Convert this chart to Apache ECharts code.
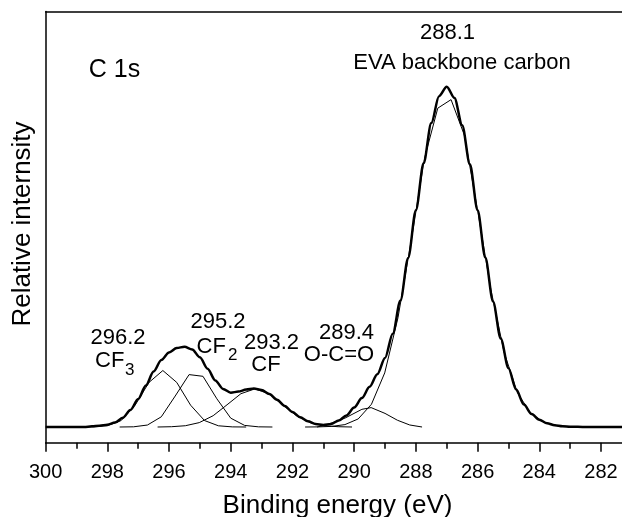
<!DOCTYPE html>
<html>
<head>
<meta charset="utf-8">
<script src="https://cdn.jsdelivr.net/npm/echarts@6/dist/echarts.min.js"></script>
<style>
html,body{margin:0;padding:0;background:#fff;}
#chart{width:622px;height:517px;}
</style>
</head>
<body>
<div id="chart"></div>
<script>
// Binding energy (eV) ticks
const xTicks = [300, 298, 296, 294, 292, 290, 288, 286, 284, 282];
const xMinorTicks = [299, 297, 295, 293, 291, 289, 287, 285, 283];

// Measured spectrum envelope [binding energy, relative intensity]
const envelope = [
  [300,0],[299.0,0],[298.75,0],[298.5,0.002],[298.25,0.004],[298.0,0.007],[297.75,0.013],
  [297.5,0.027],[297.25,0.05],[297.0,0.082],[296.75,0.122],[296.5,0.163],[296.25,0.197],
  [296.0,0.219],[295.75,0.232],[295.5,0.236],[295.25,0.228],[295.0,0.205],[294.75,0.171],
  [294.5,0.137],[294.25,0.112],[294.0,0.101],[293.75,0.104],[293.5,0.110],[293.25,0.113],
  [293.0,0.109],[292.75,0.097],[292.5,0.08],[292.25,0.062],[292.0,0.044],[291.75,0.029],
  [291.5,0.017],[291.25,0.009],[291.0,0.006],[290.75,0.009],[290.5,0.019],[290.25,0.034],
  [290.0,0.057],[289.75,0.085],[289.5,0.118],[289.25,0.155],[289.0,0.203],[288.75,0.274],
  [288.5,0.372],[288.25,0.497],[288.0,0.637],[287.75,0.775],[287.5,0.893],[287.25,0.972],
  [287.0,1.0],[286.75,0.967],[286.5,0.887],[286.25,0.772],[286.0,0.637],[285.75,0.498],
  [285.5,0.369],[285.25,0.26],[285.0,0.173],[284.75,0.11],[284.5,0.066],[284.25,0.038],
  [284.0,0.021],[283.75,0.011],[283.5,0.005],[283.25,0.002],[283.0,0.001],[282.5,0],[281.32,0]
];

// Fitted components
const peakCF3 = [
  [298.9,0],[298.45,0.0004],[298.0,0.0036],[297.55,0.019],[297.1,0.064],[296.65,0.131],
  [296.2,0.166],[295.75,0.131],[295.3,0.064],[294.85,0.019],[294.4,0.0036],[293.95,0.0004],[293.5,0]
];
const peakCF2 = [
  [297.6,0],[297.15,0.0006],[296.7,0.0058],[296.25,0.030],[295.8,0.091],[295.35,0.154],
  [294.9,0.149],[294.45,0.083],[294.0,0.026],[293.55,0.0047],[293.1,0.0005],[292.65,0]
];
const peakCF = [
  [296.37,0],[295.92,0.0009],[295.47,0.0038],[295.02,0.0129],[294.57,0.0332],[294.12,0.0653],
  [293.67,0.0979],[293.22,0.112],[292.77,0.0979],[292.32,0.0653],[291.87,0.0332],
  [291.42,0.0129],[290.97,0.0038],[290.52,0.0009],[290.07,0]
];
const peakOCO = [
  [291.2,0],[290.85,0.008],[290.3,0.026],[289.75,0.052],[289.45,0.057],[289.0,0.04],
  [288.6,0.02],[288.2,0.006],[287.8,0]
];
const peakEVA = [
  [291.59,0],[291.16,0.0004],[290.73,0.0018],[290.30,0.0071],[289.87,0.0237],[289.44,0.0668],
  [289.01,0.159],[288.58,0.321],[288.15,0.548],[287.72,0.790],[287.29,0.937],[286.86,0.962],
  [286.43,0.858],[286.00,0.637],[285.57,0.404],[285.14,0.219],[284.71,0.101],[284.28,0.040],
  [283.85,0.0136],[283.42,0.004],[282.99,0.001],[282.56,0]
];

const FONT = "'Liberation Sans', Arial, Helvetica, sans-serif";
const X_MIN = 281.32, X_MAX = 300;

const chart = echarts.init(document.getElementById('chart'), null, {renderer: 'canvas'});

function thin(data) {
  return {
    type: 'line', data: data, xAxisIndex: 0, showSymbol: false, symbol: 'none', smooth: false,
    lineStyle: {color: '#000', width: 1}, silent: true, z: 2
  };
}

function txt(text, x, y, size, align, rot) {
  return {
    type: 'text', x: x, y: y, rotation: rot || 0, silent: true,
    style: {text: text, fontSize: size, fontFamily: FONT, fill: '#000',
      align: align || 'center', verticalAlign: 'middle'}
  };
}

const blackLine = {color: '#000', width: 1.5};

chart.setOption({
  animation: false,
  backgroundColor: '#fff',
  grid: {left: 45.6, right: 0, top: 11.5, bottom: 74.3, show: false},
  xAxis: [
    {
      type: 'value', min: X_MIN, max: X_MAX, inverse: true, position: 'bottom',
      axisLine: {show: true, onZero: false, lineStyle: blackLine},
      axisTick: {show: true, length: 9, lineStyle: blackLine, customValues: xTicks},
      axisLabel: {fontSize: 20, color: '#000', margin: 20, fontFamily: FONT, customValues: xTicks},
      splitLine: {show: false}
    },
    {
      type: 'value', min: X_MIN, max: X_MAX, inverse: true, position: 'bottom',
      axisLine: {show: false, onZero: false},
      axisTick: {show: true, length: 6, lineStyle: blackLine, customValues: xMinorTicks},
      axisLabel: {show: false},
      splitLine: {show: false}
    },
    {
      type: 'value', min: X_MIN, max: X_MAX, inverse: true, position: 'top',
      axisLine: {show: true, onZero: false, lineStyle: blackLine},
      axisTick: {show: false}, axisLabel: {show: false}, splitLine: {show: false}
    }
  ],
  yAxis: {
    type: 'value', min: -0.0461, max: 1.221,
    axisLine: {show: true, onZero: false, lineStyle: blackLine},
    axisTick: {show: false}, axisLabel: {show: false}, splitLine: {show: false}
  },
  series: [
    thin(peakCF3), thin(peakCF2), thin(peakCF), thin(peakOCO), thin(peakEVA),
    {type: 'line', data: envelope, xAxisIndex: 0, showSymbol: false, symbol: 'none', smooth: 0.3,
      smoothMonotone: 'x', lineStyle: {color: '#000', width: 2.5}, silent: true, z: 3}
  ],
  graphic: [
    txt('C 1s', 114.5, 70, 25),
    txt('288.1', 447.5, 33, 22),
    txt('EVA backbone carbon', 462, 63, 22),
    txt('296.2', 118, 338, 22),
    txt('CF', 95, 361, 22, 'left'),
    txt('3', 125, 370, 17, 'left'),
    txt('295.2', 218, 322, 22),
    txt('CF', 196.5, 347, 22, 'left'),
    txt('2', 228, 355, 17, 'left'),
    txt('293.2', 271.5, 343, 22),
    txt('CF', 266, 364.5, 22),
    txt('289.4', 346.5, 333, 22),
    txt('O-C=O', 339, 354.5, 22),
    txt('Binding energy (eV)', 337.5, 506, 26),
    txt('Relative internsity', 23, 224, 26, 'center', Math.PI / 2)
  ]
});
</script>
</body>
</html>
